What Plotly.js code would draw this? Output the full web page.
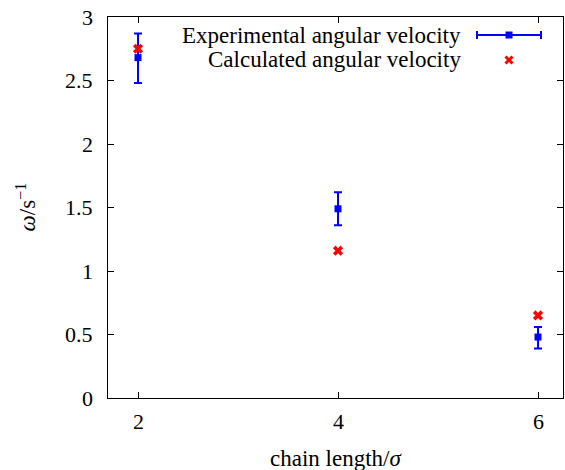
<!DOCTYPE html>
<html>
<head>
<meta charset="utf-8">
<script src="https://cdn.plot.ly/plotly-3.0.1.min.js"></script>
<style>
html,body{margin:0;padding:0;background:#fff;}
#chart{width:565px;height:470px;}
</style>
</head>
<body>
<div id="chart"></div>
<script>
// Data
var chainLength = [2, 4, 6];
var expOmega = [2.68, 1.49, 0.48];
var expErrPlus = [0.19, 0.13, 0.08];
var expErrMinus = [0.20, 0.13, 0.09];
var calcOmega = [2.75, 1.16, 0.65];
var seriesNames = ['Experimental angular velocity', 'Calculated angular velocity'];
var xTickText = ['2', '4', '6'];
var yTickVals = [0, 0.5, 1, 1.5, 2, 2.5, 3];
var yTickText = ['0', '0.5', '1', '1.5', '2', '2.5', '3'];

var FONT = 'Liberation Serif';
var W = 565, H = 470, L = 108, R = 2, T = 17, B = 72;
var pw = W - L - R, ph = H - T - B;
function px(x){ return (x - L) / pw; }
function py(y){ return (H - B - y) / ph; }

var traces = [
  {
    x: chainLength, y: expOmega, type: 'scatter', mode: 'markers',
    name: seriesNames[0], showlegend: false,
    marker: {symbol: 'square', size: 7, color: '#0000ff'},
    error_y: {type: 'data', symmetric: false, array: expErrPlus, arrayminus: expErrMinus,
              color: '#0000ff', thickness: 2, width: 4}
  },
  {
    x: chainLength, y: calcOmega, type: 'scatter', mode: 'markers',
    name: seriesNames[1], showlegend: false,
    marker: {symbol: 'x', size: 9, color: '#ff0000', line: {width: 0}}
  }
];

function txtFont(size) { return {family: FONT, size: size, color: '#000'}; }

// Legend (gnuplot style: text right-aligned, key sample on the right)
var ly1 = 35, ly2 = 60, lx0 = 477, lx1 = 541, lxc = 509;
var shapes = [
  {type: 'line', xref: 'paper', yref: 'paper', x0: px(lx0), x1: px(lx1), y0: py(ly1), y1: py(ly1), line: {color: '#0000ff', width: 2}},
  {type: 'line', xref: 'paper', yref: 'paper', x0: px(lx0), x1: px(lx0), y0: py(ly1 - 4), y1: py(ly1 + 4), line: {color: '#0000ff', width: 2}},
  {type: 'line', xref: 'paper', yref: 'paper', x0: px(lx1), x1: px(lx1), y0: py(ly1 - 4), y1: py(ly1 + 4), line: {color: '#0000ff', width: 2}},
  {type: 'rect', xref: 'paper', yref: 'paper', x0: px(lxc - 3.5), x1: px(lxc + 3.5), y0: py(ly1 - 3.5), y1: py(ly1 + 3.5), fillcolor: '#0000ff', line: {width: 0}},
  {type: 'line', xref: 'paper', yref: 'paper', x0: px(lxc - 3.5), x1: px(lxc + 3.5), y0: py(ly2 - 3.5), y1: py(ly2 + 3.5), line: {color: '#ff0000', width: 3}},
  {type: 'line', xref: 'paper', yref: 'paper', x0: px(lxc - 3.5), x1: px(lxc + 3.5), y0: py(ly2 + 3.5), y1: py(ly2 - 3.5), line: {color: '#ff0000', width: 3}}
];

// Axis tick labels and titles drawn as annotations (serif), axes carry only ticks
var annotations = [
  {xref: 'paper', yref: 'paper', x: px(463), y: py(ly1), xanchor: 'right', yanchor: 'middle', text: seriesNames[0], showarrow: false, font: txtFont(23)},
  {xref: 'paper', yref: 'paper', x: px(463), y: py(ly2), xanchor: 'right', yanchor: 'middle', text: seriesNames[1], showarrow: false, font: txtFont(23)},
  {xref: 'paper', yref: 'paper', x: 0.5, y: py(458), xanchor: 'center', yanchor: 'middle', text: 'chain length/<i>σ</i>', showarrow: false, font: txtFont(23)},
  {xref: 'paper', yref: 'paper', x: px(26), y: 0.5, xanchor: 'center', yanchor: 'middle', textangle: -90, text: '<i>ω</i>/s<sup>−1</sup>', showarrow: false, font: txtFont(23)}
];
for (var i = 0; i < chainLength.length; i++) {
  annotations.push({xref: 'x', yref: 'paper', x: chainLength[i], y: py(422), xanchor: 'center', yanchor: 'middle',
    text: xTickText[i], showarrow: false, font: txtFont(22)});
}
for (var j = 0; j < yTickVals.length; j++) {
  annotations.push({xref: 'paper', yref: 'y', x: px(95), y: yTickVals[j], xanchor: 'right', yanchor: 'middle',
    text: yTickText[j], showarrow: false, font: txtFont(22)});
}

function axisCommon() {
  return {
    showgrid: false, zeroline: false, showline: true, linecolor: '#000', linewidth: 1,
    mirror: 'ticks', ticks: 'inside', ticklen: 6, tickwidth: 1, tickcolor: '#000',
    showticklabels: false
  };
}

var xaxis = axisCommon();
xaxis.range = [1.7, 6.25];
xaxis.tickvals = chainLength;

var yaxis = axisCommon();
yaxis.range = [0, 3];
yaxis.tickvals = yTickVals;

var layout = {
  width: W, height: H,
  margin: {l: L, r: R, t: T, b: B, pad: 0, autoexpand: false},
  paper_bgcolor: '#fff', plot_bgcolor: '#fff',
  showlegend: false,
  font: {family: FONT, size: 22, color: '#000'},
  xaxis: xaxis,
  yaxis: yaxis,
  shapes: shapes,
  annotations: annotations
};

Plotly.newPlot('chart', traces, layout, {displayModeBar: false, staticPlot: true});
</script>
</body>
</html>
